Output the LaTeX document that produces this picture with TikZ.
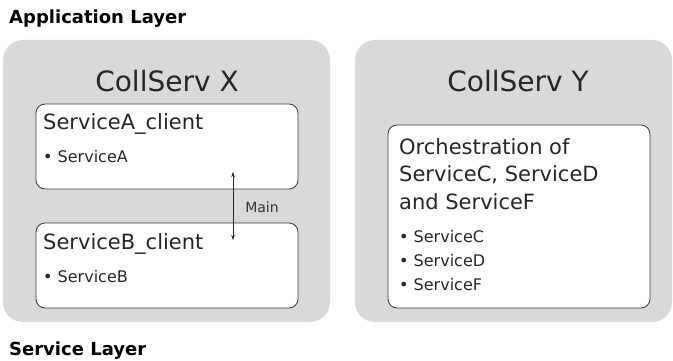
\documentclass[tikz,border=0pt]{standalone}
\usepackage{fontspec}
\setmainfont{DejaVu Sans}
\usetikzlibrary{arrows.meta}
\definecolor{panelgray}{HTML}{D9D9D9}
\definecolor{edgegray}{HTML}{3A3A3A}

\begin{document}
\begin{tikzpicture}[x=1pt,y=-1pt,
  panel/.style={fill=panelgray,rounded corners=20pt,inner sep=0pt},
  card/.style={draw=edgegray,fill=white,line width=.8pt,rounded corners=9pt,inner sep=0pt},
  layer/.style={anchor=base west,inner sep=0pt,font=\bfseries\fontsize{18}{22}\selectfont},
  title/.style={anchor=base,inner sep=0pt,text=black!85,font=\fontsize{28}{34}\selectfont},
  heading/.style={anchor=base west,inner sep=0pt,text=black!85,font=\fontsize{21}{26}\selectfont},
  item/.style={anchor=base west,inner sep=0pt,text=black!85,font=\fontsize{16}{20}\selectfont},
  link/.style={{Stealth[length=5pt,width=3.5pt]}-{Stealth[length=5pt,width=3.5pt]},draw=black!85,line width=.7pt},
  tag/.style={inner sep=0pt,text=black!80,font=\fontsize{14}{17}\selectfont}
]
\useasboundingbox (0,0) rectangle (673,361);

\node[layer] (applayer) at (9,23.5) {Application Layer};
\node[layer] (servlayer) at (9,355) {Service Layer};

\node[panel,minimum width=327pt,minimum height=282pt] (collX) at (166.5,181) {};
\node[panel,minimum width=317pt,minimum height=282pt] (collY) at (513.5,181) {};
\node[title] (titleX) at (167,91.5) {CollServ X};
\node[title] (titleY) at (518,91.5) {CollServ Y};

% CollServ X
\node[card,minimum width=262pt,minimum height=85pt] (clientA) at (167,146.5) {};
\node[heading] (headA) at (43,129.5) {ServiceA\_client};
\node[item] (itemA) at (43,163) {• ServiceA};
\node[card,minimum width=262pt,minimum height=85pt] (clientB) at (167,265.5) {};
\node[heading] (headB) at (43,249) {ServiceB\_client};
\node[item] (itemB) at (43,282) {• ServiceB};

\coordinate (mainA) at (233,172);
\coordinate (mainB) at (233,240);
\draw[link] (mainA) -- (mainB);
\node[tag] (main) at (262,207) {Main};

% CollServ Y
\node[card,minimum width=262pt,minimum height=183pt] (orch) at (519,216.5) {};
\node[heading] (orch1) at (399,154) {Orchestration of};
\node[heading] (orch2) at (399,181.5) {ServiceC, ServiceD};
\node[heading] (orch3) at (399,209) {and ServiceF};
\foreach \name/\y in {C/242,D/266,F/290}
  \node[item] (item\name) at (399,\y) {• Service\name};
\end{tikzpicture}
\end{document}
